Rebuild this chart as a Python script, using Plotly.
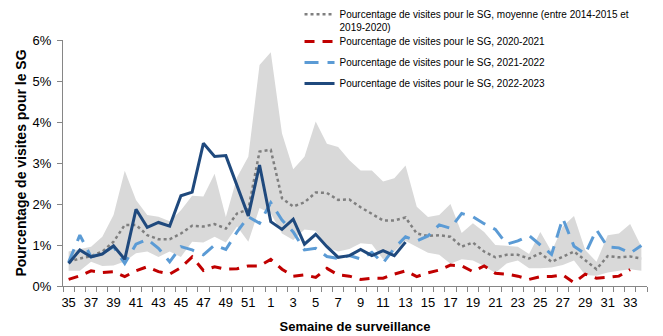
import plotly.graph_objects as go

# surveillance weeks (season runs week 35 -> week 34)
weeks = list(range(35, 53)) + list(range(1, 35))

# % of ED visits for ILI (SG)
moyenne = [0.59, 0.67, 0.73, 0.84, 1.08, 1.49, 1.49, 1.24, 1.14, 1.14, 1.28, 1.47, 1.45,
           1.51, 1.40, 1.77, 1.87, 3.28, 3.32, 2.14, 1.94, 2.04, 2.28, 2.27, 2.10, 2.11,
           1.92, 1.76, 1.60, 1.60, 1.67, 1.28, 1.22, 1.24, 1.20, 0.96, 1.06, 0.84, 0.70,
           0.76, 0.76, 0.67, 0.80, 0.59, 0.71, 0.84, 0.63, 0.41, 0.73, 0.70, 0.72, 0.67]
moyenne_max = [0.84, 0.90, 0.96, 1.20, 1.73, 2.81, 2.10, 1.73, 1.69, 1.58, 1.85, 2.20, 2.18,
               2.74, 1.68, 2.65, 3.15, 5.39, 5.70, 3.72, 2.85, 3.15, 4.01, 3.47, 3.39, 3.07,
               2.82, 2.82, 2.55, 2.63, 2.94, 1.93, 1.68, 1.73, 2.00, 1.29, 1.53, 1.32, 1.00,
               0.98, 0.96, 0.78, 1.32, 0.84, 1.45, 1.71, 0.88, 0.59, 1.24, 1.28, 1.51, 0.96]
moyenne_min = [0.37, 0.37, 0.59, 0.49, 0.50, 0.60, 0.80, 0.84, 0.71, 0.84, 0.71, 1.08, 1.06,
               1.20, 1.06, 1.45, 1.08, 1.90, 1.77, 1.28, 1.12, 1.38, 1.35, 0.94, 0.84, 0.90,
               1.04, 1.02, 0.65, 0.84, 1.10, 0.96, 0.81, 0.76, 0.54, 0.65, 0.62, 0.49, 0.32,
               0.55, 0.62, 0.43, 0.43, 0.45, 0.51, 0.62, 0.27, 0.25, 0.33, 0.37, 0.41, 0.37]
s2020_2021 = [0.16, 0.25, 0.37, 0.33, 0.35, 0.23, 0.37, 0.47, 0.35, 0.29, 0.45, 0.71, 0.38,
              0.47, 0.41, 0.42, 0.49, 0.49, 0.65, 0.41, 0.24, 0.27, 0.21, 0.43, 0.27, 0.24,
              0.16, 0.19, 0.19, 0.29, 0.37, 0.23, 0.32, 0.39, 0.51, 0.49, 0.35, 0.49, 0.31,
              0.29, 0.24, 0.16, 0.23, 0.23, 0.27, 0.08, 0.29, 0.19, 0.21, 0.24, 0.40]
s2021_2022 = [0.58, 1.24, 0.71, 0.80, 0.96, 0.55, 1.02, 1.14, 0.92, 0.59, 0.96, 0.88, 0.76,
              1.00, 0.89, 1.32, 1.69, 1.53, 2.03, 1.61, 1.32, 0.88, 0.92, 0.72, 0.67, 0.74,
              0.66, 0.82, 0.56, 0.92, 1.20, 1.10, 1.22, 1.49, 1.41, 1.77, 1.69, 1.52, 1.38,
              1.02, 1.10, 1.23, 1.00, 0.77, 1.65, 0.97, 0.78, 1.37, 0.95, 0.93, 0.80, 0.99]
s2022_2023 = [0.55, 0.88, 0.71, 0.78, 0.98, 0.65, 1.87, 1.43, 1.55, 1.46, 2.20, 2.29, 3.48,
              3.16, 3.18, 2.45, 1.71, 2.95, 1.57, 1.38, 1.63, 1.02, 1.26, 0.96, 0.70, 0.74,
              0.89, 0.74, 0.86, 0.74, 1.07]

pos = list(range(len(weeks)))
lbl = "Pourcentage de visites pour le SG"

fig = go.Figure()

# min-max band of previous seasons
fig.add_trace(go.Scatter(x=pos, y=moyenne_min, mode="lines", line=dict(width=0),
                         showlegend=False, hoverinfo="skip"))
fig.add_trace(go.Scatter(x=pos, y=moyenne_max, mode="lines", line=dict(width=0),
                         fill="tonexty", fillcolor="#d9d9d9", showlegend=False,
                         hoverinfo="skip"))

# first entry wraps on two lines, so it gets its own legend box
fig.add_trace(go.Scatter(x=pos, y=moyenne, mode="lines", legend="legend",
                         name=lbl + ", moyenne (entre 2014-2015 et<br>2019-2020)",
                         line=dict(color="#7f7f7f", width=2.5, dash="dot")))
fig.add_trace(go.Scatter(x=pos[:len(s2020_2021)], y=s2020_2021, mode="lines",
                         legend="legend2", legendgroup="b",
                         name=lbl + ", 2020-2021",
                         line=dict(color="#c00000", width=3, dash="10px,8px")))
fig.add_trace(go.Scatter(x=pos, y=s2021_2022, mode="lines",
                         legend="legend2", legendgroup="c",
                         name=lbl + ", 2021-2022",
                         line=dict(color="#5b9bd5", width=3, dash="14px,9px")))
fig.add_trace(go.Scatter(x=pos[:len(s2022_2023)], y=s2022_2023, mode="lines",
                         legend="legend2", legendgroup="d",
                         name=lbl + ", 2022-2023",
                         line=dict(color="#1f497d", width=3)))

# page body has an 8px margin, so everything is shifted up/left by 8px
fig.update_layout(
    width=663, height=336,
    margin=dict(l=55, r=24, t=32, b=58, autoexpand=False),
    paper_bgcolor="white", plot_bgcolor="white",
    font=dict(family="Liberation Sans, Arial", size=13, color="black"),
    legend=dict(x=0.405, y=1.158, xanchor="left", yanchor="top", valign="top",
                font=dict(size=10), itemwidth=30, bgcolor="rgba(0,0,0,0)"),
    legend2=dict(x=0.405, y=1.053, xanchor="left", yanchor="top",
                 font=dict(size=10), tracegroupgap=2, itemwidth=30,
                 bgcolor="rgba(0,0,0,0)"),
)
fig.update_xaxes(
    range=[-0.5, 51.5],
    tickmode="array", tickvals=pos[::2], ticktext=[str(w) for w in weeks[::2]],
    ticks="", ticklabelstandoff=4, showgrid=False, zeroline=False,
    showline=True, linecolor="#868686", linewidth=1,
    minor=dict(tick0=-0.5, dtick=1, ticks="outside", ticklen=5, tickcolor="#868686",
               showgrid=False),
    title=dict(text="<b>Semaine de surveillance</b>", font=dict(size=13), standoff=13),
)
fig.update_yaxes(
    range=[0, 6], dtick=1, ticksuffix="%",
    ticks="outside", ticklen=5, tickcolor="#868686", ticklabelstandoff=3,
    showgrid=False, zeroline=False,
    showline=True, linecolor="#868686", linewidth=1,
    title=dict(text="<b>" + lbl + "</b>", font=dict(size=14), standoff=2),
)

fig.write_html("out.html")
